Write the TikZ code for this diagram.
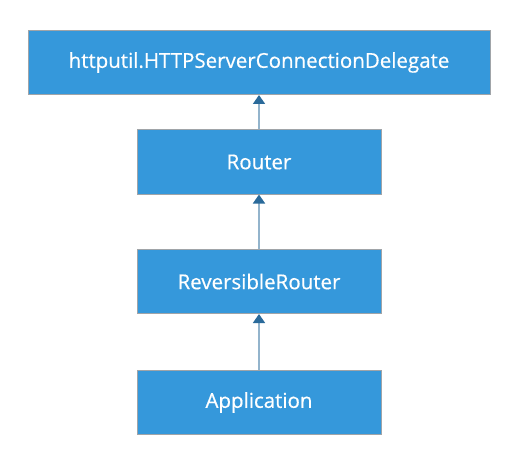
\documentclass[tikz,border=0pt]{standalone}
\usepackage{fontspec}
\setmainfont{Open Sans}
\newfontfamily\clsfont[FakeBold=0.5]{Open Sans}
\usetikzlibrary{arrows.meta}
\definecolor{boxblue}{HTML}{3598DB}
\definecolor{boxline}{HTML}{A0A4A8}
\definecolor{linkline}{HTML}{93B4CC}
\definecolor{tipblue}{HTML}{2A6A9A}

\begin{document}
\begin{tikzpicture}[x=1pt,y=1pt,
    cls/.style={draw=boxline,line width=1pt,fill=boxblue,text=white,font=\clsfont\fontsize{20.5}{24}\selectfont,minimum height=64pt,inner sep=0pt},
    inherit/.style={draw=linkline,line width=1.6pt,-{Triangle[length=9pt,width=12pt,color=tipblue]}}]

% Canvas
\useasboundingbox (0,0) rectangle (514,448);

% Classes
\node[cls,minimum width=462pt] (delegate) at (259,385.5) {httputil.HTTPServerConnectionDelegate};
\node[cls,minimum width=244pt] (router) at (259,286) {Router};
\node[cls,minimum width=244pt] (revrouter) at (259,166.5) {ReversibleRouter};
\node[cls,minimum width=244pt] (app) at (259,45.5) {Application};

% Inheritance
\foreach \sub/\super in {router/delegate, revrouter/router, app/revrouter} {
    \draw[inherit] (\sub) -- (\super);
}

\end{tikzpicture}
\end{document}
